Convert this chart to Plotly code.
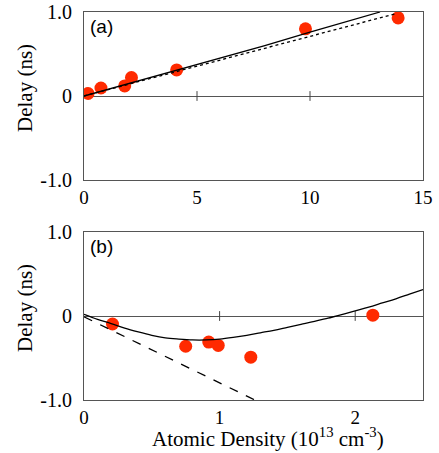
import plotly.graph_objects as go

# Panel (a) data
a_x = [0.18, 0.75, 1.8, 2.1, 4.1, 9.8, 13.9]
a_y = [0.03, 0.095, 0.12, 0.22, 0.31, 0.80, 0.93]
a_solid_x = [0, 2, 4, 6, 8, 10, 12, 13.1]
a_solid_y = [0, 0.15, 0.30, 0.45, 0.60, 0.76, 0.91, 1.0]
a_dot_x = [0, 13.8]
a_dot_y = [0, 0.98]
a_ticks = [5, 10]

# Panel (b) data
b_x = [0.21, 0.75, 0.92, 0.99, 1.23, 2.13]
b_y = [-0.095, -0.36, -0.31, -0.35, -0.49, 0.01]
b_solid_x = [0, 0.1, 0.2, 0.3, 0.4, 0.5, 0.6, 0.7, 0.8, 0.9, 1.0, 1.1, 1.2,
             1.3, 1.4, 1.5, 1.6, 1.7, 1.8, 1.9, 2.0, 2.1, 2.2, 2.3, 2.4, 2.5]
b_solid_y = [0.02, -0.04, -0.09, -0.145, -0.19, -0.23, -0.26, -0.275, -0.285, -0.285,
             -0.275, -0.255, -0.23, -0.20, -0.17, -0.135, -0.10, -0.065, -0.025, 0.015,
             0.06, 0.105, 0.155, 0.205, 0.26, 0.315]
b_dash_x = [0, 1.26]
b_dash_y = [-0.01, -1.0]
b_ticks = [1, 2]

red = "#ff2a00"
serif = "Liberation Serif, Times New Roman, serif"
sans = "Liberation Sans, Arial, sans-serif"

fig = go.Figure()

# panel a
fig.add_trace(go.Scatter(x=a_x, y=a_y, mode="markers", marker=dict(color=red, size=13),
                         xaxis="x", yaxis="y", showlegend=False))
fig.add_trace(go.Scatter(x=a_ticks, y=[0]*len(a_ticks), mode="markers",
                         marker=dict(symbol="line-ns-open", size=7, color="#444", line=dict(width=1, color="#444")),
                         xaxis="x", yaxis="y", showlegend=False))
fig.add_trace(go.Scatter(x=a_solid_x, y=a_solid_y, mode="lines", line=dict(color="black", width=1.3),
                         xaxis="x", yaxis="y", showlegend=False))
fig.add_trace(go.Scatter(x=a_dot_x, y=a_dot_y, mode="lines", line=dict(color="black", width=1.3, dash="dot"),
                         xaxis="x", yaxis="y", showlegend=False))

# panel b
fig.add_trace(go.Scatter(x=b_x, y=b_y, mode="markers", marker=dict(color=red, size=13),
                         xaxis="x2", yaxis="y2", showlegend=False))
fig.add_trace(go.Scatter(x=b_ticks, y=[0]*len(b_ticks), mode="markers",
                         marker=dict(symbol="line-ns-open", size=7, color="#444", line=dict(width=1, color="#444")),
                         xaxis="x2", yaxis="y2", showlegend=False))
fig.add_trace(go.Scatter(x=b_solid_x, y=b_solid_y, mode="lines", line=dict(color="black", width=1.3, shape="spline"),
                         xaxis="x2", yaxis="y2", showlegend=False))
fig.add_trace(go.Scatter(x=b_dash_x, y=b_dash_y, mode="lines", line=dict(color="black", width=1.3, dash="dash"),
                         xaxis="x2", yaxis="y2", showlegend=False))

def ax(**kw):
    d = dict(showgrid=False, showline=True, mirror=True, linecolor="#555", linewidth=1,
             ticks="", tickfont=dict(family=serif, size=19, color="black"),
             zeroline=False, automargin=False, ticklabelstandoff=0)
    d.update(kw)
    return d

W, H = 439, 453
L, R, T, B = 84, 16, 12, 53
pw = W - L - R
ph = H - T - B
def px(x):
    return (x - L) / pw
def py(y):
    return (H - B - y) / ph

yfont = dict(family=serif, size=20, color="black")

fig.update_layout(
    width=W, height=H,
    margin=dict(l=L, r=R, t=T, b=B),
    plot_bgcolor="white", paper_bgcolor="white",
    font=dict(family=serif, color="black"),
    xaxis=ax(domain=[0, 1], range=[0, 15], tickvals=[0, 5, 10, 15],
             ticktext=["0", "5", "10", "15"], anchor="y"),
    yaxis=ax(domain=[py(180), 1], range=[-1, 1], tickvals=[-1, 0, 1],
             ticktext=["-1.0", "0", "1.0"], anchor="x", tickfont=yfont,
             zeroline=True, zerolinecolor="#555", zerolinewidth=1, ticklabelstandoff=7),
    xaxis2=ax(domain=[0, 1], range=[0, 2.5], tickvals=[0, 1, 2],
              ticktext=["0", "1", "2"], anchor="y2"),
    yaxis2=ax(domain=[0, py(232)], range=[-1, 1], tickvals=[-1, 0, 1],
              ticktext=["-1.0", "0", "1.0"], anchor="x2", tickfont=yfont,
              zeroline=True, zerolinecolor="#555", zerolinewidth=1, ticklabelstandoff=7),
    annotations=[
        dict(text="(a)", x=px(88), y=py(14), xref="paper", yref="paper", xanchor="left", yanchor="top",
             showarrow=False, font=dict(family=sans, size=19, color="black")),
        dict(text="(b)", x=px(88), y=py(234), xref="paper", yref="paper", xanchor="left", yanchor="top",
             showarrow=False, font=dict(family=sans, size=19, color="black")),
        dict(text="Delay (ns)", x=px(25), y=py(88), xref="paper", yref="paper",
             xanchor="center", yanchor="middle",
             showarrow=False, textangle=-90, font=dict(family=serif, size=21, color="black")),
        dict(text="Delay (ns)", x=px(25), y=py(308), xref="paper", yref="paper",
             xanchor="center", yanchor="middle",
             showarrow=False, textangle=-90, font=dict(family=serif, size=21, color="black")),
        dict(text="Atomic Density (10<sup>13</sup> cm<sup>-3</sup>)", x=px(268), y=py(437),
             xref="paper", yref="paper", xanchor="center", yanchor="middle", showarrow=False,
             font=dict(family=serif, size=21, color="black")),
    ],
)

fig.write_html("out.html", config={"displayModeBar": False},
               post_script="document.body.style.margin='0';document.body.style.overflow='hidden';")
